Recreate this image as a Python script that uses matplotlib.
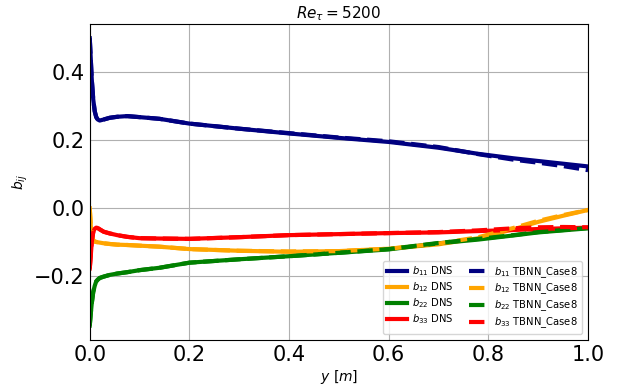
import numpy as np
import matplotlib
matplotlib.use('Agg')
import matplotlib.pyplot as plt

# wall-normal coordinate
y = [0.0, 0.002, 0.004, 0.007, 0.010, 0.013, 0.016, 0.020, 0.028, 0.040, 0.055,
     0.075, 0.10, 0.14, 0.20, 0.30, 0.40, 0.50, 0.60, 0.70, 0.78, 0.85, 0.90, 0.95, 1.0]

# DNS
b11_dns = [0.50, 0.44, 0.38, 0.32, 0.285, 0.268, 0.261, 0.258, 0.261, 0.266, 0.269,
           0.271, 0.268, 0.263, 0.249, 0.234, 0.220, 0.207, 0.195, 0.178, 0.160, 0.147, 0.139, 0.131, 0.123]
b12_dns = [0.0, -0.05, -0.08, -0.095, -0.098, -0.099, -0.100, -0.101, -0.103, -0.105, -0.107,
           -0.108, -0.110, -0.113, -0.120, -0.125, -0.128, -0.126, -0.119, -0.106, -0.088, -0.062, -0.040, -0.022, -0.005]
b22_dns = [-0.345, -0.31, -0.28, -0.246, -0.228, -0.215, -0.210, -0.205, -0.201, -0.196, -0.192,
           -0.188, -0.182, -0.175, -0.160, -0.150, -0.141, -0.131, -0.121, -0.103, -0.092, -0.080, -0.071, -0.065, -0.059]
b33_dns = [-0.177, -0.14, -0.10, -0.070, -0.060, -0.057, -0.058, -0.062, -0.069, -0.074, -0.079,
           -0.084, -0.088, -0.089, -0.090, -0.085, -0.079, -0.076, -0.073, -0.071, -0.067, -0.064, -0.061, -0.059, -0.057]

# TBNN_Case8
b11_tbnn = [0.50, 0.44, 0.38, 0.32, 0.285, 0.268, 0.261, 0.258, 0.261, 0.266, 0.269,
            0.271, 0.268, 0.263, 0.249, 0.234, 0.221, 0.208, 0.197, 0.180, 0.159, 0.143, 0.134, 0.124, 0.112]
b12_tbnn = [0.0, -0.05, -0.08, -0.095, -0.098, -0.099, -0.100, -0.101, -0.103, -0.105, -0.107,
            -0.108, -0.110, -0.113, -0.120, -0.125, -0.127, -0.126, -0.119, -0.104, -0.085, -0.058, -0.037, -0.020, -0.005]
b22_tbnn = [-0.345, -0.31, -0.28, -0.246, -0.228, -0.215, -0.210, -0.205, -0.201, -0.196, -0.192,
            -0.188, -0.182, -0.175, -0.160, -0.150, -0.141, -0.131, -0.120, -0.102, -0.090, -0.079, -0.070, -0.064, -0.058]
b33_tbnn = [-0.177, -0.14, -0.10, -0.070, -0.060, -0.057, -0.058, -0.062, -0.069, -0.074, -0.079,
            -0.084, -0.088, -0.089, -0.090, -0.085, -0.079, -0.076, -0.073, -0.070, -0.065, -0.059, -0.056, -0.055, -0.056]

colors = ['navy', 'orange', 'green', 'red']
names = ['$b_{11}$', '$b_{12}$', '$b_{22}$', '$b_{33}$']

fig = plt.figure(figsize=(6.19, 3.85), dpi=100)
ax = fig.add_axes([0.145, 0.117, 0.805, 0.821])

for d, c, nm in zip([b11_dns, b12_dns, b22_dns, b33_dns], colors, names):
    ax.plot(y, d, '-', color=c, lw=3, label=nm + ' DNS')
for d, c, nm in zip([b11_tbnn, b12_tbnn, b22_tbnn, b33_tbnn], colors, names):
    ax.plot(y, d, '--', color=c, lw=3, label=nm + ' TBNN_Case8')

ax.set_xlim(0, 1)
ax.grid(True)
ax.tick_params(labelsize=15, length=0)
ax.set_xlabel('$y\\ [m]$', fontsize=10, labelpad=2)
ax.set_ylabel('$b_{ij}$', fontsize=10, labelpad=3)
ax.set_title('$Re_\\tau = 5200$', fontsize=11, pad=4)
ax.legend(loc='lower right', ncol=2, fontsize=7.2, labelspacing=0.2,
          handletextpad=0.5, columnspacing=1.6, borderaxespad=0.6)

plt.savefig('out.png', dpi=100)
